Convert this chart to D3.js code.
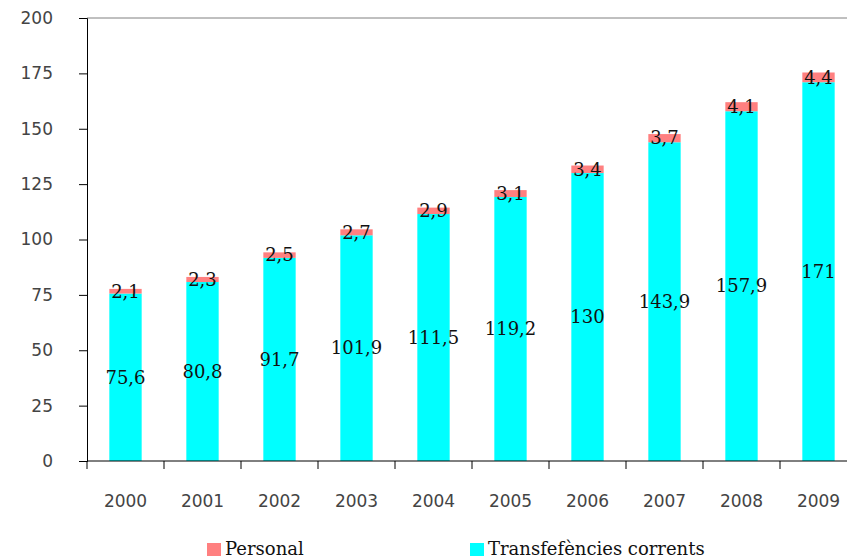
<!DOCTYPE html>
<html>
<head>
<meta charset="utf-8">
<script src="https://cdn.jsdelivr.net/npm/d3@7"></script>
<style>
  body { margin: 0; background: #fff; }
  .tick text { font-family: "DejaVu Sans", Verdana, sans-serif; font-size: 17px; fill: #444; }
  .lbl { font-family: "DejaVu Serif", "Times New Roman", serif; font-size: 18px; fill: #111; }
  .leg { font-family: "DejaVu Serif", "Times New Roman", serif; font-size: 18px; fill: #111; }
</style>
</head>
<body>
<script>
// Chart data
const years = ["2000","2001","2002","2003","2004","2005","2006","2007","2008","2009"];
const transferencies = [75.6, 80.8, 91.7, 101.9, 111.5, 119.2, 130, 143.9, 157.9, 171];
const personal = [2.1, 2.3, 2.5, 2.7, 2.9, 3.1, 3.4, 3.7, 4.1, 4.4];
const yTicks = [0, 25, 50, 75, 100, 125, 150, 175, 200];
const seriesNames = ["Personal", "Transfefències corrents"];
const colors = ["#ff8080", "#00ffff"];

const w = 847, h = 559;
const plotLeft = 87, plotTop = 18, plotBottom = 461;
const step = 77;

const fmt = v => String(v).replace(".", ",");

const svg = d3.select("body").append("svg")
  .attr("width", w)
  .attr("height", h);

const xScale = d3.scaleBand()
  .domain(years)
  .range([plotLeft, plotLeft + step * years.length])
  .paddingInner(0.58)
  .paddingOuter(0.29);

const yScale = d3.scaleLinear()
  .domain([0, 200])
  .range([plotBottom, plotTop]);

// top border line
svg.append("line")
  .attr("x1", plotLeft).attr("x2", w)
  .attr("y1", yScale(200)).attr("y2", yScale(200))
  .attr("stroke", "#808080").attr("stroke-width", 1);

// bars
const stacks = years.map((y, i) => ({ year: y, t: transferencies[i], p: personal[i] }));

svg.selectAll("rect.t")
  .data(stacks)
  .enter()
  .append("rect")
  .attr("class", "t")
  .attr("x", d => xScale(d.year))
  .attr("y", d => yScale(d.t))
  .attr("width", xScale.bandwidth())
  .attr("height", d => yScale(0) - yScale(d.t))
  .attr("fill", colors[1]);

svg.selectAll("rect.p")
  .data(stacks)
  .enter()
  .append("rect")
  .attr("class", "p")
  .attr("x", d => xScale(d.year))
  .attr("y", d => yScale(d.t + d.p))
  .attr("width", xScale.bandwidth())
  .attr("height", d => yScale(d.t) - yScale(d.t + d.p))
  .attr("fill", colors[0]);

// value labels
svg.selectAll("text.tl")
  .data(stacks)
  .enter()
  .append("text")
  .attr("class", "lbl")
  .attr("x", d => xScale(d.year) + xScale.bandwidth() / 2)
  .attr("y", d => yScale(d.t / 2))
  .attr("dy", "0.35em")
  .attr("text-anchor", "middle")
  .text(d => fmt(d.t));

svg.selectAll("text.pl")
  .data(stacks)
  .enter()
  .append("text")
  .attr("class", "lbl")
  .attr("x", d => xScale(d.year) + xScale.bandwidth() / 2)
  .attr("y", d => yScale(d.t + d.p / 2))
  .attr("dy", "0.35em")
  .attr("text-anchor", "middle")
  .text(d => fmt(d.p));

// axes
const yAxis = d3.axisLeft(yScale)
  .tickValues(yTicks)
  .tickSize(8)
  .tickPadding(26);

svg.append("g")
  .attr("transform", `translate(${plotLeft},0)`)
  .call(yAxis)
  .call(g => g.selectAll("line, path").attr("stroke", "#000"));

const xAxis = d3.axisBottom(xScale)
  .tickSize(0)
  .tickPadding(34);

const gx = svg.append("g")
  .attr("transform", `translate(0,${plotBottom})`)
  .call(xAxis);
gx.select(".domain").attr("stroke", "#000").attr("d", `M${plotLeft},0H${w + 20}`);

// category boundary ticks
gx.selectAll("line.bound")
  .data(d3.range(years.length + 1))
  .enter()
  .append("line")
  .attr("x1", i => plotLeft + step * i)
  .attr("x2", i => plotLeft + step * i)
  .attr("y1", 0).attr("y2", 8)
  .attr("stroke", "#000");

// legend
const legX = [207, 470];
seriesNames.forEach((name, i) => {
  svg.append("rect")
    .attr("x", legX[i]).attr("y", 543)
    .attr("width", 14).attr("height", 13)
    .attr("fill", colors[i]);
  svg.append("text")
    .attr("class", "leg")
    .attr("x", legX[i] + 18).attr("y", 555)
    .text(name);
});
</script>
</body>
</html>
